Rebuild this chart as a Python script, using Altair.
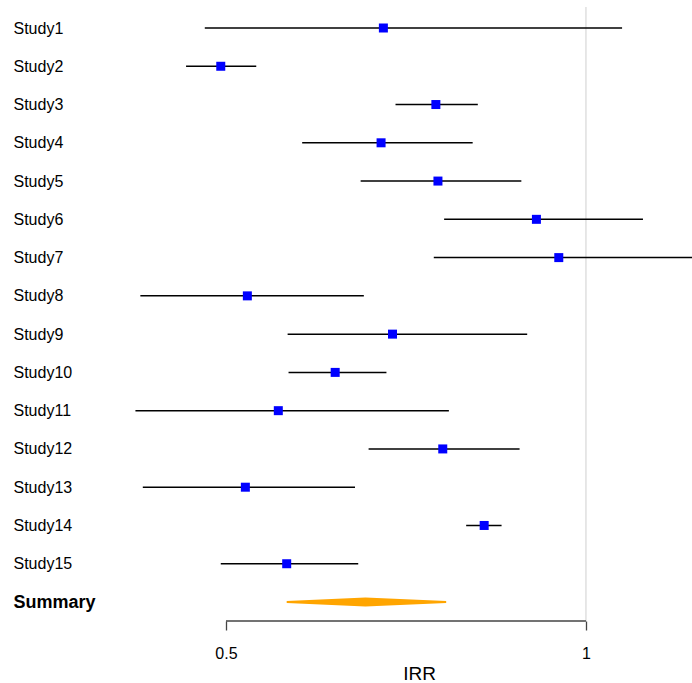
import json
import altair as alt
import pandas as pd

# ---- data ----
studies = ["Study1", "Study2", "Study3", "Study4", "Study5", "Study6", "Study7", "Study8",
           "Study9", "Study10", "Study11", "Study12", "Study13", "Study14", "Study15"]
irr = [0.677, 0.495, 0.749, 0.674, 0.752, 0.909, 0.949, 0.521,
       0.689, 0.617, 0.553, 0.759, 0.519, 0.822, 0.562]
lower = [0.480, 0.463, 0.693, 0.579, 0.648, 0.761, 0.746, 0.424,
         0.563, 0.564, 0.420, 0.658, 0.426, 0.794, 0.495]
upper = [1.072, 0.530, 0.812, 0.804, 0.883, 1.116, 1.350, 0.652,
         0.893, 0.681, 0.768, 0.880, 0.641, 0.850, 0.645]
summary_label = "Summary"
summary_est = 0.654
summary_lo = 0.562
summary_hi = 0.764
tick_values = [0.5, 1]
x_title = "IRR"

# ---- layout constants ----
LEFT = 120
W = 692 - LEFT
H = 621
BOTTOM = 683 - H
X_DOMAIN = [0.4077, 1.2265]
first_px, last_px = 28, 602
n_rows = len(studies) + 1
step = (last_px - first_px) / (n_rows - 1)
y_dom = [1 - first_px / step, n_rows + (H - last_px) / step]

labels = studies + [summary_label]

df = pd.DataFrame({
    "row": list(range(1, len(studies) + 1)),
    "study": studies,
    "irr": irr,
    "lower": lower,
    "upper": upper,
})

# diamond outline for the summary
hh_end, hh_mid = 1.0 / step, 4.5 / step
diam = pd.DataFrame({
    "x": [summary_lo, summary_est, summary_hi],
    "ytop": [n_rows - hh_end, n_rows - hh_mid, n_rows - hh_end],
    "ybot": [n_rows + hh_end, n_rows + hh_mid, n_rows + hh_end],
})

FONT = "Liberation Sans"

xscale = alt.Scale(type="log", domain=X_DOMAIN, nice=False, zero=False)
yscale = alt.Scale(domain=y_dom, reverse=True, nice=False, zero=False)

label_expr = json.dumps(labels) + "[datum.value - 1]"

yaxis = alt.Axis(
    values=list(range(1, n_rows + 1)),
    labelExpr=label_expr,
    labelAlign="left",
    labelPadding=LEFT - 13,
    ticks=False,
    tickSize=0,
    domain=False,
    grid=False,
    title=None,
    labelFont=FONT,
    labelColor="black",
    labelFontSize={"condition": {"test": f"datum.value == {n_rows}", "value": 18}, "value": 16},
    labelFontWeight={"condition": {"test": f"datum.value == {n_rows}", "value": "bold"}, "value": "normal"},
    labelBaseline="middle",
)

xaxis = alt.Axis(
    values=tick_values,
    labelExpr="format(datum.value, '~g')",
    domain=False,
    grid=False,
    ticks=True,
    tickSize=9,
    tickColor="#444444",
    tickWidth=1.3,
    labelFont=FONT,
    labelFontSize=16,
    labelColor="black",
    labelPadding=15,
    title=x_title,
    titleFont=FONT,
    titleFontSize=19,
    titleFontWeight="normal",
    titleColor="black",
    titleX=299,
    titleY=58,
    titleBaseline="alphabetic",
    titleAlign="center",
)

ref = pd.DataFrame({"x": [1.0]})
ref_line = alt.Chart(ref).mark_rule(color="#cfcfcf", strokeWidth=1).encode(
    x=alt.X("x:Q", scale=xscale, axis=xaxis),
    y=alt.value(7),
    y2=alt.value(H),
)

axis_line_df = pd.DataFrame({"a": [tick_values[0]], "b": [tick_values[-1]]})
axis_line = alt.Chart(axis_line_df).mark_rule(color="#444444", strokeWidth=1.3).encode(
    x=alt.X("a:Q", scale=xscale),
    x2="b:Q",
    y=alt.value(H),
)

ci = alt.Chart(df).mark_rule(color="black", strokeWidth=1.5, clip=True).encode(
    x=alt.X("lower:Q", scale=xscale),
    x2="upper:Q",
    y=alt.Y("row:Q", scale=yscale, axis=yaxis),
)

pts = alt.Chart(df).mark_square(size=81, color="#0000FF", opacity=1).encode(
    x=alt.X("irr:Q", scale=xscale),
    y=alt.Y("row:Q", scale=yscale),
)

diamond = alt.Chart(diam).mark_area(color="#FFA500", opacity=1).encode(
    x=alt.X("x:Q", scale=xscale),
    y=alt.Y("ytop:Q", scale=yscale),
    y2="ybot:Q",
)

chart = alt.layer(ref_line, axis_line, ci, pts, diamond).properties(
    width=W,
    height=H,
    padding={"left": LEFT, "top": 0, "right": 0, "bottom": BOTTOM},
    autosize=alt.AutoSizeParams(type="none"),
    background="white",
).configure_view(stroke=None)

chart.save("out.html", embed_options={"renderer": "svg", "actions": False})
